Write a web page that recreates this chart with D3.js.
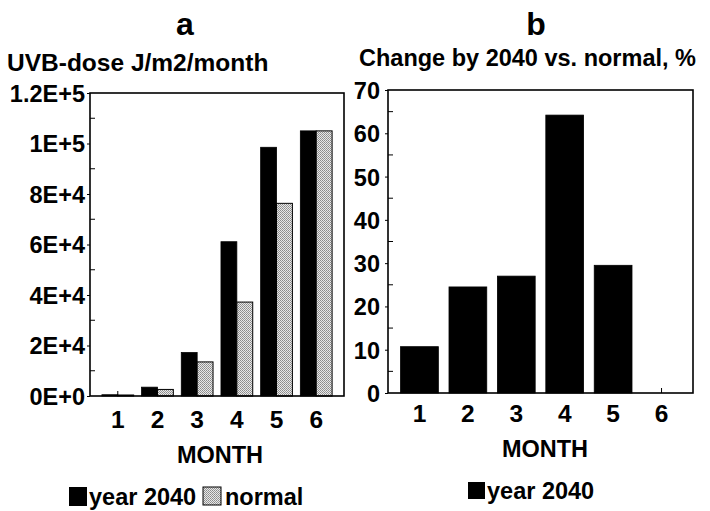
<!DOCTYPE html>
<html>
<head>
<meta charset="utf-8">
<script src="https://cdn.jsdelivr.net/npm/d3@7"></script>
<style>
  html, body { margin: 0; padding: 0; background: #fff; }
  svg text { font-family: "Liberation Sans", Arial, Helvetica, sans-serif; font-weight: bold; fill: #000; }
</style>
</head>
<body>
<svg id="chart" width="710" height="511"></svg>
<script>
// ---- data ----
const months = ["1", "2", "3", "4", "5", "6"];
const dose2040 = [500, 3500, 17200, 61100, 98500, 105000];
const doseNormal = [400, 2600, 13500, 37200, 76300, 105000];
const change2040 = [10.7, 24.5, 27.0, 64.2, 29.5, 0];
const doseTicks = [0, 20000, 40000, 60000, 80000, 100000, 120000];
const doseTickLabels = ["0E+0", "2E+4", "4E+4", "6E+4", "8E+4", "1E+5", "1.2E+5"];
const changeTicks = [0, 10, 20, 30, 40, 50, 60, 70];

const svg = d3.select("#chart");

const defs = svg.append("defs");
const pat = defs.append("pattern").attr("id", "stipple")
  .attr("patternUnits", "userSpaceOnUse").attr("width", 2).attr("height", 2);
pat.append("rect").attr("width", 2).attr("height", 2).attr("fill", "#e8e8e8");
pat.append("rect").attr("x", 0).attr("y", 0).attr("width", 1).attr("height", 1).attr("fill", "#8a8a8a");
pat.append("rect").attr("x", 1).attr("y", 1).attr("width", 1).attr("height", 1).attr("fill", "#9a9a9a");

// ---------------- Panel a ----------------
const A = {x0: 90, x1: 344, y0: 93, y1: 396};
const xa = d3.scaleBand().domain(months).range([A.x0, A.x1]).paddingInner(0.2).paddingOuter(0.3);
const xsub = d3.scaleBand().domain(["y2040", "normal"]).range([0, xa.bandwidth()]);
const ya = d3.scaleLinear().domain([0, 120000]).range([A.y1, A.y0]);

const ga = svg.append("g");
ga.append("text").attr("x", 185).attr("y", 35).attr("text-anchor", "middle")
  .style("font-size", "32px").text("a");
ga.append("text").attr("x", 7).attr("y", 71).style("font-size", "24.5px").text("UVB-dose J/m2/month");

// x ticks (inside)
ga.selectAll(".xt").data(months).join("line")
  .attr("x1", d => xa(d) + xa.bandwidth() / 2).attr("x2", d => xa(d) + xa.bandwidth() / 2)
  .attr("y1", A.y1).attr("y2", A.y1 - 5).attr("stroke", "#000").attr("stroke-width", 1);

// bars
ga.selectAll(".b1").data(months).join("rect")
  .attr("x", d => xa(d) + xsub("y2040"))
  .attr("width", xsub.bandwidth())
  .attr("y", (d, i) => ya(dose2040[i]))
  .attr("height", (d, i) => ya(0) - ya(dose2040[i]))
  .attr("fill", "#000").attr("stroke", "#000").attr("stroke-width", 0.8);
ga.selectAll(".b2").data(months).join("rect")
  .attr("x", d => xa(d) + xsub("normal"))
  .attr("width", xsub.bandwidth())
  .attr("y", (d, i) => ya(doseNormal[i]))
  .attr("height", (d, i) => ya(0) - ya(doseNormal[i]))
  .attr("fill", "url(#stipple)").attr("stroke", "#000").attr("stroke-width", 1);

// minor y ticks inside
const minorA = d3.range(10000, 120000, 20000);
ga.selectAll(".myt").data(minorA).join("line")
  .attr("x1", A.x0).attr("x2", A.x0 + 5)
  .attr("y1", d => ya(d)).attr("y2", d => ya(d)).attr("stroke", "#000").attr("stroke-width", 1);

// axes via d3
const yAxisA = d3.axisLeft(ya).tickValues(doseTicks).tickFormat((d, i) => doseTickLabels[i])
  .tickSize(3).tickPadding(2);
const gya = ga.append("g").attr("transform", `translate(${A.x0},0)`).call(yAxisA);
gya.select(".domain").remove();
gya.selectAll("text").style("font-size", "23.5px").attr("dy", "0.36em");
gya.selectAll("line").attr("stroke-width", 1);

const xAxisA = d3.axisBottom(xa).tickSize(0).tickPadding(0);
const gxa = ga.append("g").attr("transform", `translate(0,${A.y1})`).call(xAxisA);
gxa.select(".domain").remove();
gxa.selectAll("text").style("font-size", "24.5px").attr("dy", null).attr("y", 32);

// frame
ga.append("rect").attr("x", A.x0).attr("y", A.y0).attr("width", A.x1 - A.x0).attr("height", A.y1 - A.y0)
  .attr("fill", "none").attr("stroke", "#000").attr("stroke-width", 1.6);

ga.append("text").attr("x", 220).attr("y", 463).attr("text-anchor", "middle")
  .style("font-size", "23.5px").text("MONTH");

// legend a
ga.append("rect").attr("x", 69).attr("y", 487).attr("width", 18).attr("height", 19).attr("fill", "#000");
ga.append("text").attr("x", 89).attr("y", 505).style("font-size", "23.5px").text("year 2040");
ga.append("rect").attr("x", 203).attr("y", 487).attr("width", 18).attr("height", 18)
  .attr("fill", "url(#stipple)").attr("stroke", "#000").attr("stroke-width", 1);
ga.append("text").attr("x", 225).attr("y", 505).style("font-size", "23.5px").text("normal");

// ---------------- Panel b ----------------
const B = {x0: 388, x1: 693, y0: 90, y1: 393};
const xb = d3.scaleBand().domain(months).range([B.x0, B.x1]).paddingInner(0.22).paddingOuter(0.26);
const yb = d3.scaleLinear().domain([0, 70]).range([B.y1, B.y0]);

const gb = svg.append("g");
gb.append("text").attr("x", 536).attr("y", 35).attr("text-anchor", "middle")
  .style("font-size", "32px").text("b");
gb.append("text").attr("x", 359).attr("y", 66).style("font-size", "23.5px").text("Change by 2040 vs. normal, %");

gb.selectAll(".xt").data(months).join("line")
  .attr("x1", d => xb(d) + xb.bandwidth() / 2).attr("x2", d => xb(d) + xb.bandwidth() / 2)
  .attr("y1", B.y1).attr("y2", B.y1 - 5).attr("stroke", "#000").attr("stroke-width", 1);

gb.selectAll(".bb").data(months).join("rect")
  .attr("x", d => xb(d))
  .attr("width", xb.bandwidth())
  .attr("y", (d, i) => yb(change2040[i]))
  .attr("height", (d, i) => yb(0) - yb(change2040[i]))
  .attr("fill", "#000").attr("stroke", "#000").attr("stroke-width", 0.8);

const minorB = d3.range(5, 70, 10);
gb.selectAll(".myt").data(minorB).join("line")
  .attr("x1", B.x0).attr("x2", B.x0 + 5)
  .attr("y1", d => yb(d)).attr("y2", d => yb(d)).attr("stroke", "#000").attr("stroke-width", 1);

const yAxisB = d3.axisLeft(yb).tickValues(changeTicks).tickFormat(d3.format("d"))
  .tickSize(3).tickPadding(5);
const gyb = gb.append("g").attr("transform", `translate(${B.x0},0)`).call(yAxisB);
gyb.select(".domain").remove();
gyb.selectAll("text").style("font-size", "23.5px").attr("dy", "0.36em");

const xAxisB = d3.axisBottom(xb).tickSize(0).tickPadding(0);
const gxb = gb.append("g").attr("transform", `translate(0,${B.y1})`).call(xAxisB);
gxb.select(".domain").remove();
gxb.selectAll("text").style("font-size", "24.5px").attr("dy", null).attr("y", 29);

gb.append("rect").attr("x", B.x0).attr("y", B.y0).attr("width", B.x1 - B.x0).attr("height", B.y1 - B.y0)
  .attr("fill", "none").attr("stroke", "#000").attr("stroke-width", 1.6);

gb.append("text").attr("x", 545).attr("y", 457).attr("text-anchor", "middle")
  .style("font-size", "23.5px").text("MONTH");

// legend b
gb.append("rect").attr("x", 468).attr("y", 482).attr("width", 17).attr("height", 17).attr("fill", "#000");
gb.append("text").attr("x", 487).attr("y", 499).style("font-size", "23.5px").text("year 2040");
</script>
</body>
</html>
